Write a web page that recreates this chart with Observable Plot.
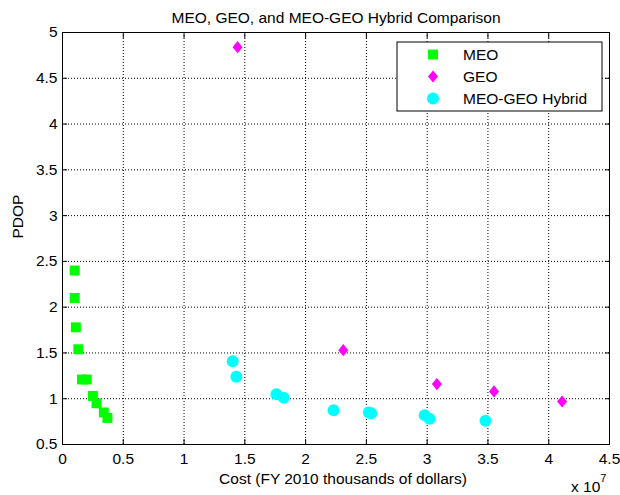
<!DOCTYPE html>
<html>
<head>
<meta charset="utf-8">
<script src="https://cdn.jsdelivr.net/npm/d3@7"></script>
<script src="https://cdn.jsdelivr.net/npm/@observablehq/plot@0.6"></script>
<style>
  html, body { margin: 0; padding: 0; background: #fff; }
  #chart { width: 620px; height: 495px; }
</style>
</head>
<body>
<div id="chart"></div>
<script>
// Cost in units of 10^7 (FY 2010 thousands of dollars), PDOP values
const meoCost = [0.10, 0.10, 0.11, 0.13, 0.16, 0.20, 0.25, 0.28, 0.34, 0.37];
const meoPdop = [2.40, 2.10, 1.78, 1.54, 1.21, 1.21, 1.03, 0.95, 0.85, 0.79];

const geoCost = [1.44, 2.31, 3.08, 3.55, 4.11];
const geoPdop = [4.84, 1.53, 1.16, 1.08, 0.97];

const hybridCost = [1.40, 1.43, 1.76, 1.82, 2.23, 2.52, 2.54, 2.98, 3.02, 3.48];
const hybridPdop = [1.41, 1.24, 1.05, 1.01, 0.875, 0.85, 0.84, 0.82, 0.78, 0.76];

const xTicks = [0, 0.5, 1, 1.5, 2, 2.5, 3, 3.5, 4, 4.5];
const yTicks = [0.5, 1, 1.5, 2, 2.5, 3, 3.5, 4, 4.5, 5];

const seriesNames = ["MEO", "GEO", "MEO-GEO Hybrid"];
const seriesColors = ["#00ff00", "#ff00ff", "#00ffff"];

const titleText = "MEO, GEO, and MEO-GEO Hybrid Comparison";
const xLabelText = "Cost (FY 2010 thousands of dollars)";
const yLabelText = "PDOP";
const xExponent = "7";

const font = "'Liberation Sans', Arial, Helvetica, sans-serif";
const fs = 15.5;

// Rhombus slightly narrower than tall
const diamond = {
  draw(ctx, size) {
    const ratio = 0.82;
    const h = Math.sqrt(size / (2 * ratio));
    const w = h * ratio;
    ctx.moveTo(0, -h);
    ctx.lineTo(w, 0);
    ctx.lineTo(0, h);
    ctx.lineTo(-w, 0);
    ctx.closePath();
  }
};

const toRows = (xs, ys) => xs.map((x, i) => ({x, y: ys[i]}));
const meo = toRows(meoCost, meoPdop);
const geo = toRows(geoCost, geoPdop);
const hybrid = toRows(hybridCost, hybridPdop);

const grid = {stroke: "black", strokeOpacity: 1, strokeWidth: 1, strokeDasharray: "1,2"};
const rSquare = 5.6, rDiamond = 4.4, rCircle = 6;

const svg = Plot.plot({
  width: 620,
  height: 495,
  marginLeft: 62,
  marginRight: 11,
  marginTop: 32,
  marginBottom: 51,
  style: {fontFamily: font, fontSize: fs + "px", color: "black", background: "white", overflow: "visible"},
  x: {domain: [0, 4.5]},
  y: {domain: [0.5, 5]},
  marks: [
    Plot.gridX(xTicks, grid),
    Plot.gridY(yTicks, grid),
    Plot.axisX(xTicks, {tickSize: -5, tickPadding: 13, tickFormat: d => String(d), label: null, fontSize: fs}),
    Plot.axisX(xTicks, {anchor: "top", tickSize: -5, tickFormat: () => "", label: null}),
    Plot.axisY(yTicks, {tickSize: -5, tickPadding: 10, tickFormat: d => String(d), label: null, fontSize: fs}),
    Plot.axisY(yTicks, {anchor: "right", tickSize: -5, tickFormat: () => "", label: null}),
    Plot.frame({stroke: "black", strokeWidth: 1}),
    Plot.dot(meo, {x: "x", y: "y", symbol: "square", r: rSquare, fill: seriesColors[0], stroke: null}),
    Plot.dot(geo, {x: "x", y: "y", symbol: diamond, r: rDiamond, fill: seriesColors[1], stroke: null}),
    Plot.dot(hybrid, {x: "x", y: "y", symbol: "circle", r: rCircle, fill: seriesColors[2], stroke: null}),
    Plot.text([titleText], {frameAnchor: "top", lineAnchor: "bottom", dy: -10, fontSize: fs}),
    Plot.text([xLabelText], {frameAnchor: "bottom", lineAnchor: "bottom", dy: 39, dx: 7, fontSize: fs}),
    Plot.text([yLabelText], {frameAnchor: "left", rotate: -90, dx: -44, fontSize: fs})
  ]
});

const root = d3.select(svg);

// Exponent note under the right end of the x axis
const expo = root.append("text")
  .attr("x", 571).attr("y", 492)
  .attr("text-anchor", "start")
  .attr("font-family", font).attr("font-size", fs)
  .attr("fill", "black")
  .text("x 10");
expo.append("tspan").attr("dy", -10).attr("font-size", 11).text(xExponent);

// Legend box
const lg = root.append("g").attr("transform", "translate(397,42)");
lg.append("rect").attr("width", 205).attr("height", 69)
  .attr("fill", "white").attr("stroke", "black").attr("stroke-width", 1);
const legendSymbols = [
  d3.symbol(d3.symbolSquare, Math.PI * rSquare * rSquare),
  d3.symbol(diamond, Math.PI * rDiamond * rDiamond),
  d3.symbol(d3.symbolCircle, Math.PI * rCircle * rCircle)
];
seriesNames.forEach((name, i) => {
  const cy = 12.5 + i * 22;
  lg.append("path").attr("d", legendSymbols[i]())
    .attr("transform", `translate(36,${cy})`)
    .attr("fill", seriesColors[i]);
  lg.append("text").attr("x", 66).attr("y", cy).attr("dy", "0.35em")
    .attr("text-anchor", "start")
    .attr("font-family", font).attr("font-size", fs).attr("fill", "black")
    .text(name);
});

document.getElementById("chart").appendChild(svg);
</script>
</body>
</html>
